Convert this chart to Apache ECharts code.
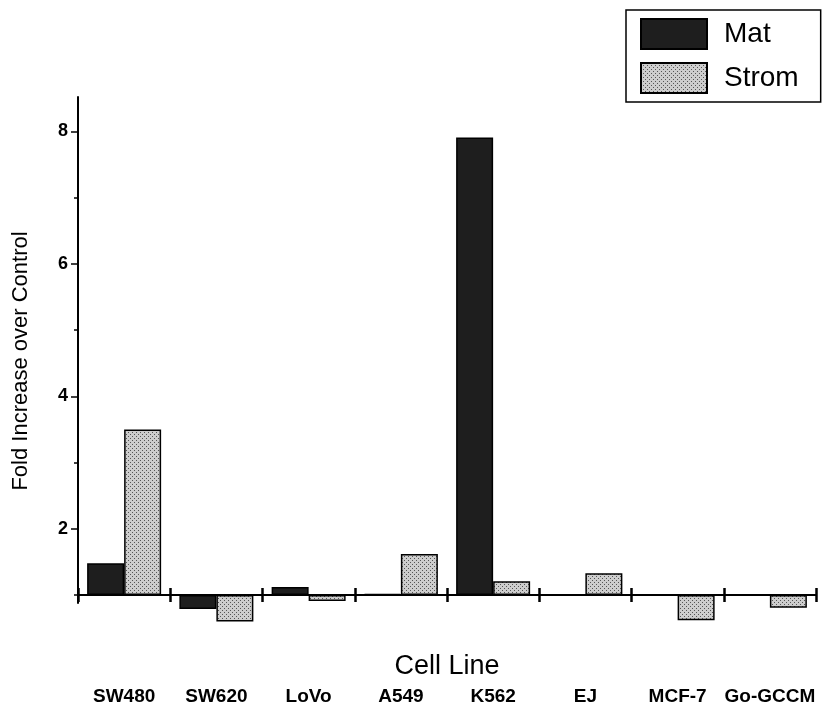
<!DOCTYPE html>
<html><head><meta charset="utf-8">
<script src="https://cdn.jsdelivr.net/npm/echarts@6/dist/echarts.min.js"></script>
<style>html,body{margin:0;padding:0;background:#fff}#c{width:829px;height:715px}</style>
</head><body><div id="c"></div>
<script>
const categories = ['SW480', 'SW620', 'LoVo', 'A549', 'K562', 'EJ', 'MCF-7', 'Go-GCCM'];
const matValues = [1.48, 0.79, 1.12, 1.02, 7.91, 1.0, 1.0, 1.0];
const stromValues = [3.5, 0.6, 0.91, 1.62, 1.21, 1.33, 0.62, 0.81];
const yMajorTicks = [2, 4, 6, 8];
const yMinorTicks = [1, 3, 5, 7];
const baseline = 1;
const yAxisMinFold = 0.88;
const yAxisMaxFold = 8.52;

function makePattern() {
  const c = document.createElement('canvas');
  c.width = 4; c.height = 4;
  const g = c.getContext('2d');
  g.fillStyle = '#cdcdcd'; g.fillRect(0, 0, 4, 4);
  g.fillStyle = '#555555';
  g.fillRect(0, 0, 1, 1); g.fillRect(2, 2, 1, 1);
  return c;
}
const stromFill = { image: makePattern(), repeat: 'repeat' };
const font = '"Liberation Sans", Arial, Helvetica, sans-serif';
const toAxis = v => +(v - baseline).toFixed(4);
const yMin = toAxis(yAxisMinFold), yMax = toAxis(yAxisMaxFold);

const chart = echarts.init(document.getElementById('c'), null, { renderer: 'canvas' });
chart.setOption({
  animation: false,
  backgroundColor: '#fff',
  textStyle: { fontFamily: font },
  grid: { left: 78, right: 13, top: 97, bottom: 112, containLabel: false, outerBoundsMode: 'none' },
  legend: {
    orient: 'vertical', left: 626, top: 10,
    itemWidth: 66, itemHeight: 30, itemGap: 12,
    padding: [8, 22, 8, 14],
    borderColor: '#000', borderWidth: 1.5,
    textStyle: { fontSize: 28, color: '#000', fontFamily: font, padding: [0, 0, 0, 12] },
    data: [{ name: 'Mat', icon: 'rect' }, { name: 'Strom', icon: 'rect' }]
  },
  xAxis: [{
    type: 'category', data: categories,
    axisLine: { onZero: true, lineStyle: { color: '#000', width: 2 } },
    axisTick: { show: true, interval: 0, length: 7, lineStyle: { width: 2.5, color: '#000' } },
    axisLabel: { margin: 84, fontSize: 19, fontWeight: 'bold', color: '#000', interval: 0, fontFamily: font },
    name: 'Cell Line', nameLocation: 'middle', nameGap: 50, nameMoveOverlap: false,
    nameTextStyle: { fontSize: 27, color: '#000', fontFamily: font }
  }, {
    type: 'category', data: categories, position: 'bottom',
    axisLine: { show: false, onZero: true, onZeroAxisIndex: 1 },
    axisTick: { show: true, interval: 0, inside: true, length: 7, lineStyle: { width: 2.5, color: '#000' } },
    axisLabel: { show: false }
  }],
  yAxis: [{
    type: 'value', min: yMin, max: yMax, position: 'left',
    splitLine: { show: false },
    axisLine: { show: true, lineStyle: { color: '#000', width: 2 } },
    axisTick: { show: true, length: 7, customValues: yMajorTicks.map(toAxis), lineStyle: { color: '#000', width: 1.5 } },
    axisLabel: { customValues: yMajorTicks.map(toAxis), formatter: v => String(Math.round(v + baseline)),
      fontSize: 18, fontWeight: 'bold', color: '#000', margin: 10, fontFamily: font },
    name: 'Fold Increase over Control', nameLocation: 'middle', nameGap: 46, nameMoveOverlap: false,
    nameTextStyle: { fontSize: 22, color: '#000', fontFamily: font, padding: [0, 22, 0, 0] }
  }, {
    type: 'value', min: yMin, max: yMax, position: 'left',
    splitLine: { show: false },
    axisLine: { show: false },
    axisTick: { show: true, length: 4, customValues: yMinorTicks.map(toAxis), lineStyle: { color: '#000', width: 1.5 } },
    axisLabel: { show: false }
  }],
  series: [{
    name: 'Mat', type: 'bar', data: matValues.map(toAxis), clip: false,
    barWidth: 37, barGap: '0%',
    itemStyle: { color: '#1e1e1e', borderColor: '#000', borderWidth: 1.5 }
  }, {
    name: 'Strom', type: 'bar', data: stromValues.map(toAxis), clip: false,
    barWidth: 37, barGap: '0%',
    itemStyle: { color: stromFill, borderColor: '#000', borderWidth: 1.5 }
  }]
});
</script></body></html>
